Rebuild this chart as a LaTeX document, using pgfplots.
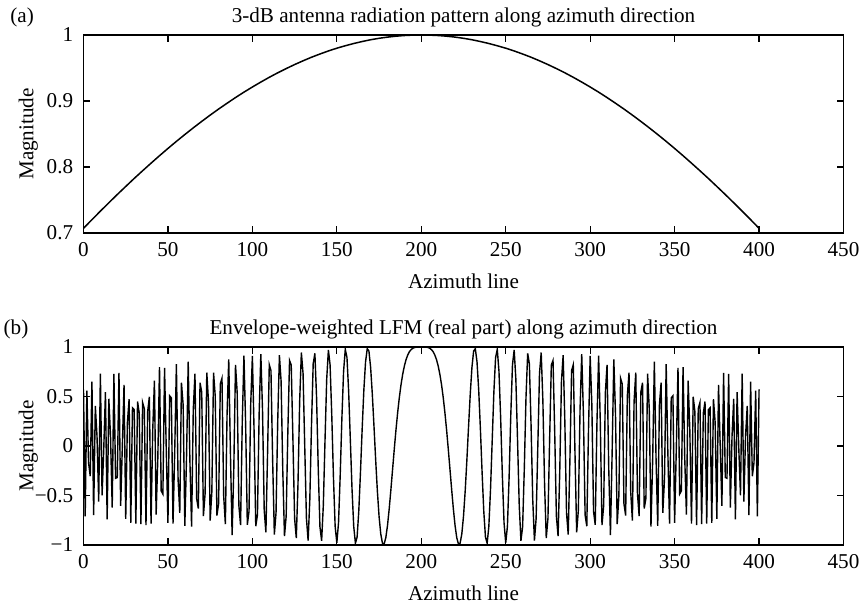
\documentclass[border=0pt]{standalone}
\usepackage{fontspec}
\setmainfont{Liberation Serif}
\usepackage{pgfplots}
\usepackage{pgfplotstable}
\pgfplotsset{compat=1.18}

\pgfplotstableread{
n w
0 0.7071
5 0.7202
10 0.7331
15 0.7458
20 0.7583
25 0.7705
30 0.7826
35 0.7943
40 0.8058
45 0.8171
50 0.8281
55 0.8388
60 0.8492
65 0.8593
70 0.8691
75 0.8786
80 0.8878
85 0.8966
90 0.9052
95 0.9134
100 0.9212
105 0.9287
110 0.9359
115 0.9427
120 0.9491
125 0.9552
130 0.9609
135 0.9663
140 0.9712
145 0.9758
150 0.9800
155 0.9837
160 0.9871
165 0.9901
170 0.9928
175 0.9950
180 0.9968
185 0.9982
190 0.9992
195 0.9998
200 1.0000
205 0.9998
210 0.9992
215 0.9982
220 0.9968
225 0.9950
230 0.9928
235 0.9901
240 0.9871
245 0.9837
250 0.9800
255 0.9758
260 0.9712
265 0.9663
270 0.9609
275 0.9552
280 0.9491
285 0.9427
290 0.9359
295 0.9287
300 0.9212
305 0.9134
310 0.9052
315 0.8966
320 0.8878
325 0.8786
330 0.8691
335 0.8593
340 0.8492
345 0.8388
350 0.8281
355 0.8171
360 0.8058
365 0.7943
370 0.7826
375 0.7705
380 0.7583
385 0.7458
390 0.7331
395 0.7202
400 0.7071
}\patterntab

\pgfplotstableread{
n s
0 0.572
1 -0.710
2 0.560
3 -0.169
4 -0.305
5 0.651
6 -0.698
7 0.405
8 0.100
9 -0.562
10 0.732
11 -0.498
12 -0.026
13 0.545
14 -0.742
15 0.477
16 0.100
17 -0.622
18 0.728
19 -0.326
20 -0.318
21 0.738
22 -0.604
23 -0.003
24 0.617
25 -0.735
26 0.237
27 0.472
28 -0.776
29 0.385
30 0.367
31 -0.783
32 0.449
33 0.333
34 -0.789
35 0.439
36 0.378
37 -0.799
38 0.348
39 0.497
40 -0.785
41 0.162
42 0.660
43 -0.693
44 -0.128
45 0.797
46 -0.453
47 -0.485
48 0.789
49 -0.031
50 -0.777
51 0.507
52 0.486
53 -0.785
54 -0.067
55 0.826
56 -0.338
57 -0.675
58 0.639
59 0.414
60 -0.806
61 -0.121
62 0.853
63 -0.149
64 -0.815
65 0.369
66 0.730
67 -0.530
68 -0.632
69 0.639
70 0.544
71 -0.707
72 -0.482
73 0.742
74 0.452
75 -0.753
76 -0.460
77 0.741
78 0.504
79 -0.702
80 -0.583
81 0.627
82 0.684
83 -0.503
84 -0.790
85 0.320
86 0.875
87 -0.073
88 -0.899
89 -0.226
90 0.820
91 0.539
92 -0.602
93 -0.799
94 0.238
95 0.913
96 0.222
97 -0.796
98 -0.661
99 0.415
100 0.910
101 0.153
102 -0.810
103 -0.696
104 0.325
105 0.928
106 0.363
107 -0.649
108 -0.873
109 -0.060
110 0.821
111 0.762
112 -0.149
113 -0.894
114 -0.676
115 0.252
116 0.917
117 0.654
118 -0.252
119 -0.911
120 -0.708
121 0.146
122 0.864
123 0.818
124 0.069
125 -0.732
126 -0.930
127 -0.384
128 0.456
129 0.944
130 0.732
131 -0.005
132 -0.732
133 -0.955
134 -0.543
135 0.214
136 0.830
137 0.936
138 0.490
139 -0.231
140 -0.817
141 -0.957
142 -0.599
143 0.056
144 0.675
145 0.970
146 0.820
147 0.314
148 -0.318
149 -0.812
150 -0.979
151 -0.775
152 -0.293
153 0.283
154 0.755
155 0.976
156 0.894
157 0.551
158 0.059
159 -0.438
160 -0.813
161 -0.982
162 -0.920
163 -0.657
164 -0.263
165 0.174
166 0.566
167 0.849
168 0.983
169 0.959
170 0.795
171 0.526
172 0.199
173 -0.142
174 -0.455
175 -0.710
176 -0.888
177 -0.981
178 -0.990
179 -0.926
180 -0.803
181 -0.636
182 -0.443
183 -0.238
184 -0.034
185 0.160
186 0.335
187 0.489
188 0.619
189 0.725
190 0.809
191 0.873
192 0.920
193 0.953
194 0.974
195 0.987
196 0.995
197 0.998
198 1.000
199 1.000
200 1.000
201 1.000
202 1.000
203 0.998
204 0.995
205 0.987
206 0.974
207 0.953
208 0.920
209 0.873
210 0.809
211 0.725
212 0.619
213 0.489
214 0.335
215 0.160
216 -0.034
217 -0.238
218 -0.443
219 -0.636
220 -0.803
221 -0.926
222 -0.990
223 -0.981
224 -0.888
225 -0.710
226 -0.455
227 -0.142
228 0.199
229 0.526
230 0.795
231 0.959
232 0.983
233 0.849
234 0.566
235 0.174
236 -0.263
237 -0.657
238 -0.920
239 -0.982
240 -0.813
241 -0.438
242 0.059
243 0.551
244 0.894
245 0.976
246 0.755
247 0.283
248 -0.293
249 -0.775
250 -0.979
251 -0.812
252 -0.318
253 0.314
254 0.820
255 0.970
256 0.675
257 0.056
258 -0.599
259 -0.957
260 -0.817
261 -0.231
262 0.490
263 0.936
264 0.830
265 0.214
266 -0.543
267 -0.955
268 -0.732
269 -0.005
270 0.732
271 0.944
272 0.456
273 -0.384
274 -0.930
275 -0.732
276 0.069
277 0.818
278 0.864
279 0.146
280 -0.708
281 -0.911
282 -0.252
283 0.654
284 0.917
285 0.252
286 -0.676
287 -0.894
288 -0.149
289 0.762
290 0.821
291 -0.060
292 -0.873
293 -0.649
294 0.363
295 0.928
296 0.325
297 -0.696
298 -0.810
299 0.153
300 0.910
301 0.415
302 -0.661
303 -0.796
304 0.222
305 0.913
306 0.238
307 -0.799
308 -0.602
309 0.539
310 0.820
311 -0.226
312 -0.899
313 -0.073
314 0.875
315 0.320
316 -0.790
317 -0.503
318 0.684
319 0.627
320 -0.583
321 -0.702
322 0.504
323 0.741
324 -0.460
325 -0.753
326 0.452
327 0.742
328 -0.482
329 -0.707
330 0.544
331 0.639
332 -0.632
333 -0.530
334 0.730
335 0.369
336 -0.815
337 -0.149
338 0.853
339 -0.121
340 -0.806
341 0.414
342 0.639
343 -0.675
344 -0.338
345 0.826
346 -0.067
347 -0.785
348 0.486
349 0.507
350 -0.777
351 -0.031
352 0.789
353 -0.485
354 -0.453
355 0.797
356 -0.128
357 -0.693
358 0.660
359 0.162
360 -0.785
361 0.497
362 0.348
363 -0.799
364 0.378
365 0.439
366 -0.789
367 0.333
368 0.449
369 -0.783
370 0.367
371 0.385
372 -0.776
373 0.472
374 0.237
375 -0.735
376 0.617
377 -0.003
378 -0.604
379 0.738
380 -0.318
381 -0.326
382 0.728
383 -0.622
384 0.100
385 0.477
386 -0.742
387 0.545
388 -0.026
389 -0.498
390 0.732
391 -0.562
392 0.100
393 0.405
394 -0.698
395 0.651
396 -0.305
397 -0.169
398 0.560
399 -0.710
400 0.572
}\lfmtab

\newcommand{\fs}{\fontsize{10.6}{12.5}\selectfont}

\pgfplotsset{
  myax/.style={
    width=380bp, height=99bp, scale only axis,
    xmin=0, xmax=450, xtick={0,50,...,450},
    tick align=inside, major tick length=3.3bp,
    xtick pos=both, ytick pos=both,
    axis line style={line width=0.6bp, black},
    every tick/.style={black, line width=0.6bp},
    /pgf/number format/assume math mode=true,
    tick label style={font=\fs, inner sep=0pt, black},
    xticklabel style={anchor=base, yshift=-11.9bp},
    yticklabel style={anchor=east, xshift=-5bp},
    label style={font=\fs, inner sep=0pt},
    xlabel={Azimuth line},
    xlabel style={at={(axis description cs:0.5,-0.2828)}, anchor=base},
    ylabel={Magnitude},
    ylabel style={at={(axis description cs:-0.0658,0.5)}, anchor=base},
    every axis title shift=0pt,
    title style={at={(axis description cs:0.5,1)}, anchor=base, yshift=6bp, font=\fs, inner sep=0pt},
  }
}

\begin{document}
\begin{tikzpicture}
\useasboundingbox (-41.75bp,-29.5bp) rectangle (390.25bp,272.5bp);

\begin{axis}[myax, name=top, at={(0,156bp)},
  ymin=0.7, ymax=1, ytick={0.7,0.8,0.9,1},
  yticklabels={0.7,0.8,0.9,1},
  title={3-dB antenna radiation pattern along azimuth direction}]
\addplot[black, line width=0.75bp, mark=none] table[x=n, y=w] {\patterntab};
\end{axis}

\begin{axis}[myax, name=bot, at={(0,0)},
  ymin=-1, ymax=1, ytick={-1,-0.5,0,0.5,1},
  yticklabels={−1,−0.5,0,0.5,1},
  title={Envelope-weighted LFM (real part) along azimuth direction}]
\addplot[black, line width=0.7bp, mark=none] table[x=n, y=s] {\lfmtab};
\end{axis}

\node[font=\fs, inner sep=0pt, anchor=base west] at ([xshift=-36.75bp, yshift=6bp]top.north west) {(a)};
\node[font=\fs, inner sep=0pt, anchor=base west] at ([xshift=-40.1bp, yshift=6bp]bot.north west) {(b)};
\end{tikzpicture}
\end{document}
